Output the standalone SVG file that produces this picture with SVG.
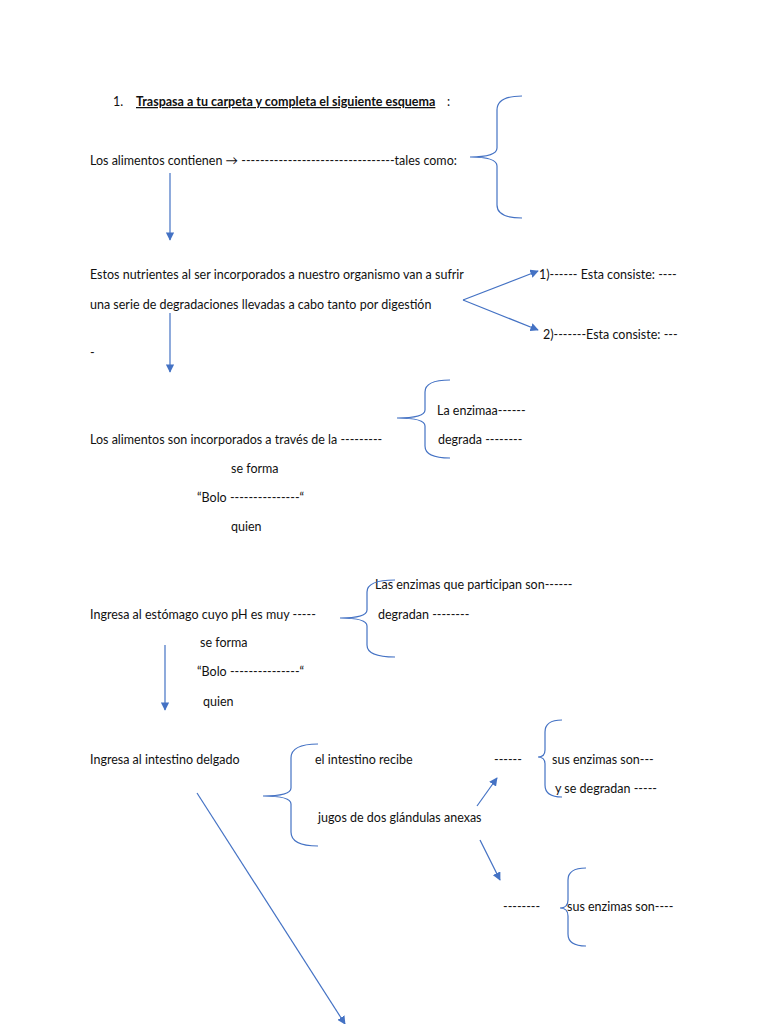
<svg xmlns="http://www.w3.org/2000/svg" width="768" height="1024" viewBox="0 0 768 1024">
<style>
text{font-family:Lato,"Open Sans","Liberation Sans",sans-serif;font-size:12.5px;fill:#111}
.b{fill:none;stroke:#4472C4;stroke-width:1.2}
.a{stroke:#4472C4;stroke-width:1.2;fill:none;marker-end:url(#ah)}
</style>
<defs><marker id="ah" viewBox="0 0 10 10" refX="9" refY="5" markerWidth="7" markerHeight="7" orient="auto"><path d="M0,0L10,5L0,10z" fill="#4472C4"/></marker></defs>
<rect width="768" height="1024" fill="#fff"/>
<g id="texts">
<text x="113" y="106">1.</text>
<text x="136" y="106" font-weight="bold" text-decoration="underline">Traspasa a tu carpeta y completa el siguiente esquema</text><text x="447" y="106">:</text>
<text x="90" y="165">Los alimentos contienen → ---------------------------------tales como:</text>
<text x="90" y="279">Estos nutrientes al ser incorporados a nuestro organismo van a sufrir</text>
<text x="90" y="309">una serie de degradaciones llevadas a cabo tanto por digestión</text>
<text x="539" y="279">1)------ Esta consiste: ----</text>
<text x="543" y="339">2)-------Esta consiste: ---</text>
<text x="90" y="357">-</text>
<text x="437" y="415">La enzimaa------</text>
<text x="90" y="444">Los alimentos son incorporados a través de la ---------</text>
<text x="438" y="444">degrada --------</text>
<text x="231" y="473">se forma</text>
<text x="197" y="502">“Bolo ---------------“</text>
<text x="231" y="531">quien</text>
<text x="375" y="589">Las enzimas que participan son------</text>
<text x="90" y="619">Ingresa al estómago cuyo pH es muy -----</text>
<text x="378" y="619">degradan --------</text>
<text x="200" y="647">se forma</text>
<text x="197" y="676">“Bolo ---------------“</text>
<text x="203" y="706">quien</text>
<text x="90" y="764">Ingresa al intestino delgado</text>
<text x="315" y="764">el intestino recibe</text>
<text x="494" y="764">------</text>
<text x="552" y="764">sus enzimas son---</text>
<text x="555" y="793">y se degradan -----</text>
<text x="318" y="822">jugos de dos glándulas anexas</text>
<text x="503" y="911">--------</text>
<text x="567" y="911">sus enzimas son----</text>
</g>
<g id="braces">
<path class="b" d="M522,96Q497,96 497,110L497,148Q497,157 470,157Q497,157 497,166L497,205Q497,218 522,218"/>
<path class="b" d="M450,380Q425,380 425,392L425,410Q425,418 397,418Q425,418 425,426L425,446Q425,458 450,458"/>
<path class="b" d="M395,580Q367,580 367,592L367,610Q367,618 340,618Q367,618 367,626L367,645Q367,657 395,657"/>
<path class="b" d="M318,744Q291,744 291,758L291,788Q291,796 263,796Q291,796 291,804L291,832Q291,846 318,846"/>
<path class="b" d="M562,720Q545,720 545,732L545,750Q545,757 538,757Q545,757 545,764L545,785Q545,797 562,797"/>
<path class="b" d="M586,868Q568,868 568,880L568,900Q568,908 560,908Q568,908 568,916L568,934Q568,946 586,946"/>
</g>
<g id="connectors">
<line class="a" x1="170" y1="173" x2="170" y2="240"/>
<line class="a" x1="463" y1="300" x2="538" y2="271"/>
<line class="a" x1="463" y1="300" x2="538" y2="330"/>
<line class="a" x1="170" y1="313" x2="170" y2="372"/>
<line class="a" x1="165" y1="645" x2="165" y2="710"/>
<line class="a" x1="477" y1="806" x2="497" y2="778"/>
<line class="a" x1="480" y1="840" x2="500" y2="880"/>
<line class="a" x1="197" y1="793" x2="345" y2="1024"/>
</g>
</svg>
